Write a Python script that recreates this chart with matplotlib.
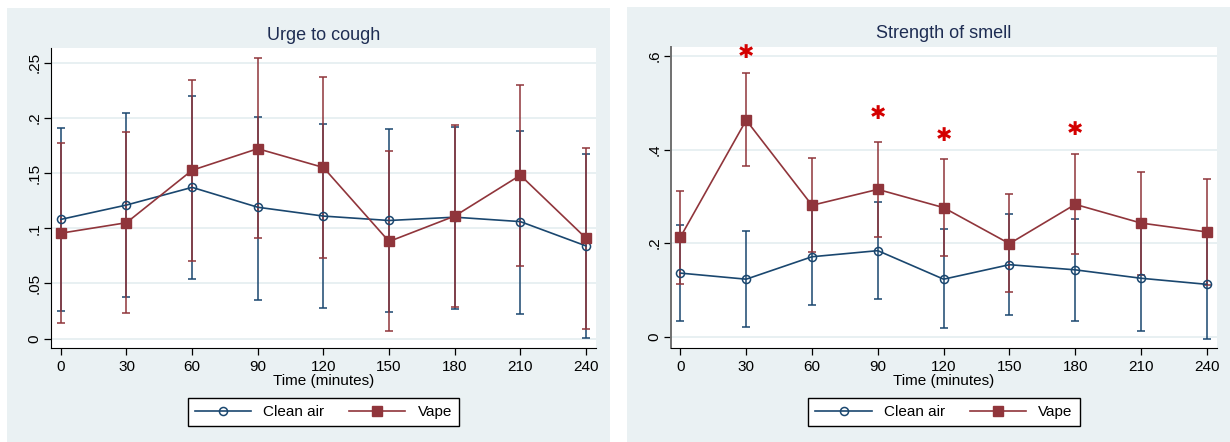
import numpy as np
import matplotlib.pyplot as plt
from matplotlib.patches import Rectangle

plt.rcParams["font.family"] = ["Liberation Sans", "DejaVu Sans"]

# Data
times = [0, 30, 60, 90, 120, 150, 180, 210, 240]

cough_clean = [0.108, 0.121, 0.137, 0.119, 0.111, 0.107, 0.110, 0.106, 0.084]
cough_clean_lo = [0.025, 0.038, 0.054, 0.035, 0.028, 0.024, 0.027, 0.022, 0.001]
cough_clean_hi = [0.191, 0.204, 0.220, 0.201, 0.194, 0.190, 0.192, 0.188, 0.167]
cough_vape = [0.0955, 0.105, 0.1525, 0.172, 0.155, 0.088, 0.111, 0.148, 0.091]
cough_vape_lo = [0.014, 0.023, 0.070, 0.091, 0.073, 0.007, 0.029, 0.066, 0.009]
cough_vape_hi = [0.1775, 0.187, 0.234, 0.2545, 0.237, 0.170, 0.193, 0.2295, 0.173]

smell_clean = [0.136, 0.123, 0.171, 0.184, 0.123, 0.154, 0.143, 0.125, 0.112]
smell_clean_lo = [0.034, 0.021, 0.068, 0.081, 0.019, 0.047, 0.034, 0.013, -0.004]
smell_clean_hi = [0.238, 0.226, 0.274, 0.289, 0.230, 0.262, 0.252, 0.238, 0.228]
smell_vape = [0.213, 0.463, 0.281, 0.315, 0.276, 0.199, 0.283, 0.243, 0.224]
smell_vape_lo = [0.113, 0.364, 0.182, 0.214, 0.173, 0.096, 0.177, 0.132, 0.111]
smell_vape_hi = [0.312, 0.563, 0.382, 0.417, 0.379, 0.306, 0.391, 0.352, 0.337]

# significance stars (time, height)
star_times = [30, 90, 120, 180]
star_y = [0.607, 0.478, 0.430, 0.443]

navy = "#1A476F"
maroon = "#90353B"
bg = "#EAF1F3"
title_col = "#1E2D53"

fig = plt.figure(figsize=(12.3, 4.42), dpi=100)
fig.patch.set_facecolor("white")
fig.patches.append(Rectangle((7 / 1230, 0), 603 / 1230, 434 / 442,
                             transform=fig.transFigure, facecolor=bg, edgecolor="none", zorder=-10))
fig.patches.append(Rectangle((627 / 1230, 0), 603 / 1230, 435 / 442,
                             transform=fig.transFigure, facecolor=bg, edgecolor="none", zorder=-10))

ax1 = fig.add_axes([0.0418, 0.212, 0.4428, 0.679])
ax2 = fig.add_axes([0.5455, 0.2133, 0.4439, 0.681])


def draw(ax, clean, clean_lo, clean_hi, vape, vape_lo, vape_hi):
    t = np.array(times)
    c = np.array(clean)
    v = np.array(vape)
    ax.errorbar(t, c, yerr=[c - np.array(clean_lo), np.array(clean_hi) - c], fmt="none",
                ecolor=navy, elinewidth=1.1, capsize=3, capthick=1.1, zorder=2)
    ax.errorbar(t, v, yerr=[v - np.array(vape_lo), np.array(vape_hi) - v], fmt="none",
                ecolor=maroon, elinewidth=1.1, capsize=3, capthick=1.1, zorder=3)
    ax.plot(t, c, color=navy, lw=1.2, marker="o", ms=5.8, mfc="none", mec=navy, mew=1.1,
            zorder=4, label="Clean air")
    ax.plot(t, v, color=maroon, lw=1.2, marker="s", ms=6.5, mfc=maroon, mec=maroon,
            zorder=5, label="Vape")
    ax.set_xlim(-4.3, 244.6)
    ax.set_xticks(times)
    ax.set_xlabel("Time (minutes)", fontsize=11, labelpad=0)
    ax.set_facecolor("white")
    for s in ["top", "right"]:
        ax.spines[s].set_visible(False)
    ax.grid(axis="y", color="#E4EDF0", lw=1.2)
    ax.set_axisbelow(True)
    ax.tick_params(labelsize=11, length=5, width=0.9)
    ax.tick_params(axis="y", pad=2)


draw(ax1, cough_clean, cough_clean_lo, cough_clean_hi, cough_vape, cough_vape_lo, cough_vape_hi)
ax1.set_ylim(-0.0087, 0.263)
ax1.set_yticks([0, 0.05, 0.1, 0.15, 0.2, 0.25])
ax1.set_yticklabels(["0", ".05", ".1", ".15", ".2", ".25"], rotation=90, va="center")
ax1.set_title("Urge to cough", fontsize=13, color=title_col, pad=6)

draw(ax2, smell_clean, smell_clean_lo, smell_clean_hi, smell_vape, smell_vape_lo, smell_vape_hi)
ax2.set_ylim(-0.0235, 0.62)
ax2.set_yticks([0, 0.2, 0.4, 0.6])
ax2.set_yticklabels(["0", ".2", ".4", ".6"], rotation=90, va="center")
ax2.set_title("Strength of smell", fontsize=13, color=title_col, pad=6)
ax2.spines["left"].set_color("#707070")
ax2.spines["left"].set_linewidth(1.4)
for tx, ty in zip(star_times, star_y):
    ax2.text(tx, ty, "\u2731", color="#D40000", fontsize=14,
             ha="center", va="center", family="DejaVu Sans")

for ax, cx in [(ax1, 0.2629), (ax2, 0.7675)]:
    leg = ax.legend(loc="center", bbox_to_anchor=(cx, 0.068), bbox_transform=fig.transFigure,
                    ncol=2, fancybox=False, edgecolor="black", fontsize=11, handlelength=3.7,
                    columnspacing=1.6, borderpad=0.45, framealpha=1)
    leg.get_frame().set_linewidth(1.0)

fig.savefig("out.png", dpi=100)
